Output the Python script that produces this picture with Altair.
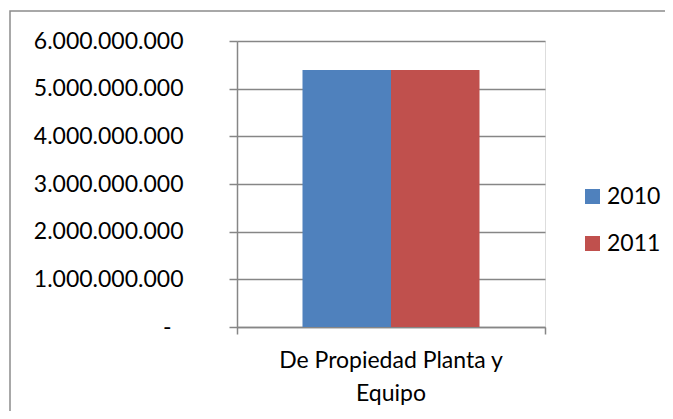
import json
import altair as alt
import pandas as pd

categories = ["De Propiedad Planta y Equipo"]
category_label_lines = ["De Propiedad Planta y", "Equipo"]
years = ["2010", "2011"]
values_2010 = [5390000000]
values_2011 = [5390000000]
y_ticks = [0, 1000000000, 2000000000, 3000000000, 4000000000, 5000000000, 6000000000]
colors = ["#4F81BD", "#C0504D"]

rows = []
for i, c in enumerate(categories):
    rows.append({"category": c, "year": years[0], "value": values_2010[i]})
    rows.append({"category": c, "year": years[1], "value": values_2011[i]})
df = pd.DataFrame(rows)

FONT = "Lato"
GRID = "#868686"
W, H = 308, 286

x_scale = alt.Scale(paddingInner=0, paddingOuter=0)

border = alt.Chart(pd.DataFrame({"f": [0]})).mark_rect(
    fill="transparent", stroke="#8C8C8C", strokeWidth=1.5, clip=False
).encode(
    x=alt.value(-227), y=alt.value(-30), x2=alt.value(700), y2=alt.value(600)
)

bars = alt.Chart(df).mark_bar().encode(
    x=alt.X(
        "category:N",
        title=None,
        scale=x_scale,
        axis=alt.Axis(
            orient="bottom",
            labels=False,
            tickBand="extent",
            tickSize=7,
            tickColor=GRID,
            tickWidth=1.5,
            domainColor=GRID,
            domainWidth=1.5,
            grid=False,
        ),
    ),
    xOffset=alt.XOffset(
        "year:N", scale=alt.Scale(paddingInner=0, paddingOuter=0.74)
    ),
    y=alt.Y(
        "value:Q",
        title=None,
        scale=alt.Scale(domain=[0, 6000000000], nice=False),
        axis=alt.Axis(
            values=y_ticks,
            labelExpr="datum.value == 0 ? '-' : replace(format(datum.value, ','), /,/g, '.')",
            labelFont=FONT,
            labelFontSize=23,
            labelColor="black",
            labelPadding={"condition": {"test": "datum.value == 0", "value": 58}, "value": 46},
            tickSize=8,
            tickColor=GRID,
            tickWidth=1.5,
            domainColor=GRID,
            domainWidth=1.5,
            grid=True,
            gridColor=GRID,
            gridWidth=1.5,
        ),
    ),
    color=alt.Color(
        "year:N",
        scale=alt.Scale(domain=years, range=colors),
        legend=alt.Legend(
            orient="none",
            legendX=344,
            legendY=144,
            title=None,
            symbolType="square",
            symbolSize=225,
            symbolStrokeWidth=0,
            labelFont=FONT,
            labelFontSize=23,
            labelColor="black",
            rowPadding=23,
            labelOffset=3,
            padding=0,
        ),
    ),
)

cat_labels = alt.Chart(df).mark_point(opacity=0).encode(
    x=alt.X(
        "category:N",
        title=None,
        scale=x_scale,
        axis=alt.Axis(
            orient="bottom",
            labelExpr=json.dumps(category_label_lines),
            labelAngle=0,
            labelFont=FONT,
            labelFontSize=23,
            labelColor="black",
            labelLineHeight=33,
            labelBaseline="top",
            labelPadding=22,
            labelLimit=500,
            ticks=False,
            domain=False,
            grid=False,
        ),
    ),
)

chart = alt.layer(border, bars, cat_labels).resolve_axis(x="independent").properties(
    width=W,
    height=H,
    autosize=alt.AutoSizeParams(type="none"),
    padding={"left": 229, "top": 33, "right": 120, "bottom": 84},
).configure_view(strokeWidth=0).configure(background="white")

chart.save("out.html", embed_options={"renderer": "svg", "actions": False})
